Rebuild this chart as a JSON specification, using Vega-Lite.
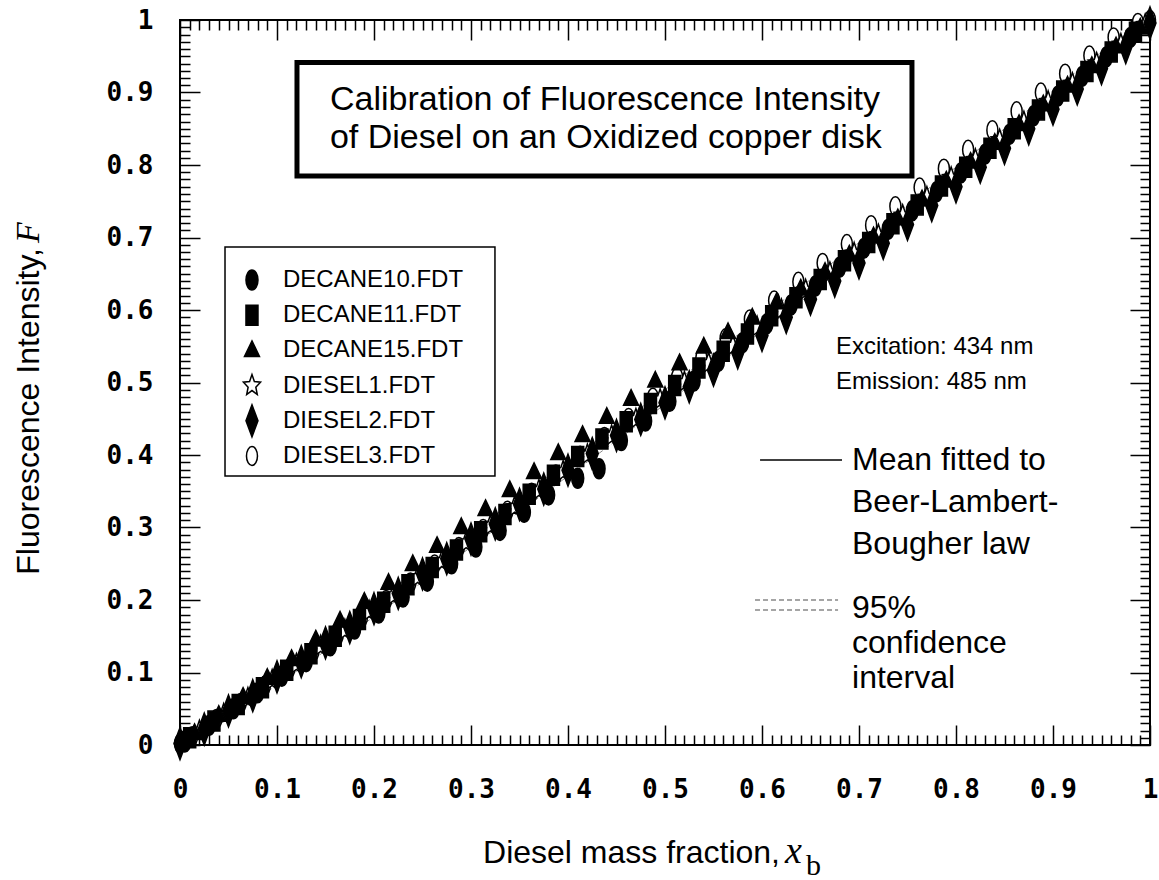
{
  "$schema": "https://vega.github.io/schema/vega-lite/v6.json",
  "width": 970,
  "height": 725,
  "autosize": "none",
  "padding": {"left": 180, "top": 20, "right": 9, "bottom": 135},
  "background": "white",
  "config": {"view": {"stroke": "black", "strokeWidth": 2}, "font": "Liberation Sans"},
  "resolve": {"axis": {"x": "independent", "y": "independent"}},
  "layer": [
    {
      "data": {"values": [{"v": 0}, {"v": 1}]},
      "mark": {"type": "point", "opacity": 0},
      "encoding": {
        "x": {"field": "v", "type": "quantitative", "scale": {"domain": [0, 1], "nice": false, "zero": false},
          "axis": {"orient": "top", "tickCount": 100, "ticks": true, "tickSize": {"expr": "abs(datum.value*10 - round(datum.value*10)) < 0.001 ? -20 : -10"}, "tickWidth": 1.5, "tickColor": "black", "labels": false, "domain": false, "grid": false, "title": null}},
        "y": {"field": "v", "type": "quantitative", "scale": {"domain": [0, 1], "nice": false, "zero": false},
          "axis": {"orient": "right", "tickCount": 100, "ticks": true, "tickSize": {"expr": "abs(datum.value*10 - round(datum.value*10)) < 0.001 ? -20 : -10"}, "tickWidth": 1.5, "tickColor": "black", "labels": false, "domain": false, "grid": false, "title": null}}
      }
    },
    {
      "data": {"values": [
        {"x": 0, "m": 0, "lo": -0.004, "hi": 0.004},
        {"x": 0.05, "m": 0.0462, "lo": 0.036, "hi": 0.056},
        {"x": 0.1, "m": 0.0928, "lo": 0.083, "hi": 0.103},
        {"x": 0.15, "m": 0.1398, "lo": 0.13, "hi": 0.15},
        {"x": 0.2, "m": 0.1872, "lo": 0.177, "hi": 0.197},
        {"x": 0.25, "m": 0.235, "lo": 0.225, "hi": 0.245},
        {"x": 0.3, "m": 0.2832, "lo": 0.273, "hi": 0.293},
        {"x": 0.35, "m": 0.3318, "lo": 0.322, "hi": 0.342},
        {"x": 0.4, "m": 0.3808, "lo": 0.371, "hi": 0.391},
        {"x": 0.45, "m": 0.4302, "lo": 0.42, "hi": 0.44},
        {"x": 0.5, "m": 0.48, "lo": 0.47, "hi": 0.49},
        {"x": 0.55, "m": 0.5302, "lo": 0.52, "hi": 0.54},
        {"x": 0.6, "m": 0.5808, "lo": 0.571, "hi": 0.591},
        {"x": 0.65, "m": 0.6318, "lo": 0.622, "hi": 0.642},
        {"x": 0.7, "m": 0.6832, "lo": 0.673, "hi": 0.693},
        {"x": 0.75, "m": 0.735, "lo": 0.725, "hi": 0.745},
        {"x": 0.8, "m": 0.7872, "lo": 0.777, "hi": 0.797},
        {"x": 0.85, "m": 0.8398, "lo": 0.83, "hi": 0.85},
        {"x": 0.9, "m": 0.8928, "lo": 0.883, "hi": 0.903},
        {"x": 0.95, "m": 0.9462, "lo": 0.936, "hi": 0.956},
        {"x": 1, "m": 1, "lo": 0.996, "hi": 1.004}
      ]},
      "layer": [
        {
          "mark": {"type": "line", "stroke": "#888888", "strokeWidth": 1, "strokeDash": [5, 3]},
          "encoding": {
            "x": {"field": "x", "type": "quantitative", "scale": {"domain": [0, 1], "nice": false, "zero": false}, "axis": null},
            "y": {"field": "lo", "type": "quantitative", "scale": {"domain": [0, 1], "nice": false, "zero": false}, "axis": null}
          }
        },
        {
          "mark": {"type": "line", "stroke": "#888888", "strokeWidth": 1, "strokeDash": [5, 3]},
          "encoding": {
            "x": {"field": "x", "type": "quantitative", "scale": {"domain": [0, 1], "nice": false, "zero": false}, "axis": null},
            "y": {"field": "hi", "type": "quantitative", "scale": {"domain": [0, 1], "nice": false, "zero": false}, "axis": null}
          }
        },
        {
          "mark": {"type": "line", "stroke": "black", "strokeWidth": 1.5},
          "encoding": {
            "x": {"field": "x", "type": "quantitative", "scale": {"domain": [0, 1], "nice": false, "zero": false}, "axis": null},
            "y": {"field": "m", "type": "quantitative", "scale": {"domain": [0, 1], "nice": false, "zero": false}, "axis": null}
          }
        }
      ]
    },
    {
      "data": {"values": [{}]},
      "mark": {"type": "rect", "fill": "white", "stroke": "black", "strokeWidth": 5},
      "encoding": {
        "x": {"datum": 0.1206, "type": "quantitative", "scale": {"domain": [0, 1], "nice": false, "zero": false}, "axis": null},
        "x2": {"datum": 0.7546},
        "y": {"datum": 0.9414, "type": "quantitative", "scale": {"domain": [0, 1], "nice": false, "zero": false}, "axis": null},
        "y2": {"datum": 0.7848}
      }
    },
    {
      "data": {"values": [{}]},
      "mark": {"type": "rect", "fill": "white", "stroke": "black", "strokeWidth": 1.5},
      "encoding": {
        "x": {"datum": 0.0464, "type": "quantitative", "scale": {"domain": [0, 1], "nice": false, "zero": false}, "axis": null},
        "x2": {"datum": 0.3247},
        "y": {"datum": 0.6869, "type": "quantitative", "scale": {"domain": [0, 1], "nice": false, "zero": false}, "axis": null},
        "y2": {"datum": 0.371}
      }
    },
    {
      "data": {"values": [
        {"s": "DIESEL3.FDT", "x": 0, "F": 0.002},
        {"s": "DIESEL3.FDT", "x": 0.0125, "F": 0.012},
        {"s": "DIESEL3.FDT", "x": 0.0375, "F": 0.036},
        {"s": "DIESEL3.FDT", "x": 0.0625, "F": 0.058},
        {"s": "DIESEL3.FDT", "x": 0.0875, "F": 0.082},
        {"s": "DIESEL3.FDT", "x": 0.1125, "F": 0.105},
        {"s": "DIESEL3.FDT", "x": 0.1375, "F": 0.129},
        {"s": "DIESEL3.FDT", "x": 0.1625, "F": 0.151},
        {"s": "DIESEL3.FDT", "x": 0.1875, "F": 0.176},
        {"s": "DIESEL3.FDT", "x": 0.2125, "F": 0.2},
        {"s": "DIESEL3.FDT", "x": 0.2375, "F": 0.224},
        {"s": "DIESEL3.FDT", "x": 0.2625, "F": 0.249},
        {"s": "DIESEL3.FDT", "x": 0.2875, "F": 0.273},
        {"s": "DIESEL3.FDT", "x": 0.3125, "F": 0.298},
        {"s": "DIESEL3.FDT", "x": 0.3375, "F": 0.323},
        {"s": "DIESEL3.FDT", "x": 0.3625, "F": 0.348},
        {"s": "DIESEL3.FDT", "x": 0.3875, "F": 0.373},
        {"s": "DIESEL3.FDT", "x": 0.4125, "F": 0.399},
        {"s": "DIESEL3.FDT", "x": 0.4375, "F": 0.425},
        {"s": "DIESEL3.FDT", "x": 0.4625, "F": 0.451},
        {"s": "DIESEL3.FDT", "x": 0.4875, "F": 0.479},
        {"s": "DIESEL3.FDT", "x": 0.5125, "F": 0.507},
        {"s": "DIESEL3.FDT", "x": 0.5375, "F": 0.534},
        {"s": "DIESEL3.FDT", "x": 0.5625, "F": 0.561},
        {"s": "DIESEL3.FDT", "x": 0.5875, "F": 0.587},
        {"s": "DIESEL3.FDT", "x": 0.6125, "F": 0.613},
        {"s": "DIESEL3.FDT", "x": 0.6375, "F": 0.639},
        {"s": "DIESEL3.FDT", "x": 0.6625, "F": 0.665},
        {"s": "DIESEL3.FDT", "x": 0.6875, "F": 0.691},
        {"s": "DIESEL3.FDT", "x": 0.7125, "F": 0.717},
        {"s": "DIESEL3.FDT", "x": 0.7375, "F": 0.743},
        {"s": "DIESEL3.FDT", "x": 0.7625, "F": 0.769},
        {"s": "DIESEL3.FDT", "x": 0.7875, "F": 0.795},
        {"s": "DIESEL3.FDT", "x": 0.8125, "F": 0.821},
        {"s": "DIESEL3.FDT", "x": 0.8375, "F": 0.848},
        {"s": "DIESEL3.FDT", "x": 0.8625, "F": 0.874},
        {"s": "DIESEL3.FDT", "x": 0.8875, "F": 0.9},
        {"s": "DIESEL3.FDT", "x": 0.9125, "F": 0.926},
        {"s": "DIESEL3.FDT", "x": 0.9375, "F": 0.951},
        {"s": "DIESEL3.FDT", "x": 0.9625, "F": 0.976},
        {"s": "DIESEL3.FDT", "x": 0.9875, "F": 0.996},
        {"s": "DIESEL3.FDT", "x": 1, "F": 1},
        {"s": "DIESEL1.FDT", "x": 0.02, "F": 0.019},
        {"s": "DIESEL1.FDT", "x": 0.045, "F": 0.042},
        {"s": "DIESEL1.FDT", "x": 0.07, "F": 0.064},
        {"s": "DIESEL1.FDT", "x": 0.095, "F": 0.089},
        {"s": "DIESEL1.FDT", "x": 0.12, "F": 0.111},
        {"s": "DIESEL1.FDT", "x": 0.145, "F": 0.136},
        {"s": "DIESEL1.FDT", "x": 0.17, "F": 0.158},
        {"s": "DIESEL1.FDT", "x": 0.195, "F": 0.184},
        {"s": "DIESEL1.FDT", "x": 0.22, "F": 0.206},
        {"s": "DIESEL1.FDT", "x": 0.245, "F": 0.231},
        {"s": "DIESEL1.FDT", "x": 0.27, "F": 0.253},
        {"s": "DIESEL1.FDT", "x": 0.295, "F": 0.279},
        {"s": "DIESEL1.FDT", "x": 0.32, "F": 0.302},
        {"s": "DIESEL1.FDT", "x": 0.345, "F": 0.328},
        {"s": "DIESEL1.FDT", "x": 0.37, "F": 0.351},
        {"s": "DIESEL1.FDT", "x": 0.395, "F": 0.377},
        {"s": "DIESEL1.FDT", "x": 0.42, "F": 0.4},
        {"s": "DIESEL1.FDT", "x": 0.445, "F": 0.426},
        {"s": "DIESEL1.FDT", "x": 0.47, "F": 0.449},
        {"s": "DIESEL1.FDT", "x": 0.495, "F": 0.476},
        {"s": "DIESEL1.FDT", "x": 0.52, "F": 0.5},
        {"s": "DIESEL1.FDT", "x": 0.545, "F": 0.526},
        {"s": "DIESEL1.FDT", "x": 0.57, "F": 0.55},
        {"s": "DIESEL1.FDT", "x": 0.595, "F": 0.576},
        {"s": "DIESEL1.FDT", "x": 0.62, "F": 0.6},
        {"s": "DIESEL1.FDT", "x": 0.645, "F": 0.627},
        {"s": "DIESEL1.FDT", "x": 0.67, "F": 0.651},
        {"s": "DIESEL1.FDT", "x": 0.695, "F": 0.678},
        {"s": "DIESEL1.FDT", "x": 0.72, "F": 0.703},
        {"s": "DIESEL1.FDT", "x": 0.745, "F": 0.73},
        {"s": "DIESEL1.FDT", "x": 0.77, "F": 0.755},
        {"s": "DIESEL1.FDT", "x": 0.795, "F": 0.782},
        {"s": "DIESEL1.FDT", "x": 0.82, "F": 0.807},
        {"s": "DIESEL1.FDT", "x": 0.845, "F": 0.834},
        {"s": "DIESEL1.FDT", "x": 0.87, "F": 0.859},
        {"s": "DIESEL1.FDT", "x": 0.895, "F": 0.887},
        {"s": "DIESEL1.FDT", "x": 0.92, "F": 0.912},
        {"s": "DIESEL1.FDT", "x": 0.945, "F": 0.94},
        {"s": "DIESEL1.FDT", "x": 0.97, "F": 0.966},
        {"s": "DIESEL1.FDT", "x": 0.995, "F": 0.993},
        {"s": "DECANE10.FDT", "x": 0.005, "F": 0.004},
        {"s": "DECANE10.FDT", "x": 0.03, "F": 0.027},
        {"s": "DECANE10.FDT", "x": 0.055, "F": 0.05},
        {"s": "DECANE10.FDT", "x": 0.08, "F": 0.072},
        {"s": "DECANE10.FDT", "x": 0.105, "F": 0.095},
        {"s": "DECANE10.FDT", "x": 0.13, "F": 0.115},
        {"s": "DECANE10.FDT", "x": 0.155, "F": 0.137},
        {"s": "DECANE10.FDT", "x": 0.18, "F": 0.16},
        {"s": "DECANE10.FDT", "x": 0.205, "F": 0.182},
        {"s": "DECANE10.FDT", "x": 0.23, "F": 0.204},
        {"s": "DECANE10.FDT", "x": 0.255, "F": 0.226},
        {"s": "DECANE10.FDT", "x": 0.28, "F": 0.25},
        {"s": "DECANE10.FDT", "x": 0.305, "F": 0.273},
        {"s": "DECANE10.FDT", "x": 0.33, "F": 0.296},
        {"s": "DECANE10.FDT", "x": 0.355, "F": 0.321},
        {"s": "DECANE10.FDT", "x": 0.38, "F": 0.345},
        {"s": "DECANE10.FDT", "x": 0.41, "F": 0.368},
        {"s": "DECANE10.FDT", "x": 0.432, "F": 0.381},
        {"s": "DECANE10.FDT", "x": 0.455, "F": 0.42},
        {"s": "DECANE10.FDT", "x": 0.48, "F": 0.447},
        {"s": "DECANE10.FDT", "x": 0.505, "F": 0.474},
        {"s": "DECANE10.FDT", "x": 0.53, "F": 0.502},
        {"s": "DECANE10.FDT", "x": 0.555, "F": 0.529},
        {"s": "DECANE10.FDT", "x": 0.58, "F": 0.555},
        {"s": "DECANE10.FDT", "x": 0.605, "F": 0.581},
        {"s": "DECANE10.FDT", "x": 0.63, "F": 0.607},
        {"s": "DECANE10.FDT", "x": 0.655, "F": 0.633},
        {"s": "DECANE10.FDT", "x": 0.68, "F": 0.659},
        {"s": "DECANE10.FDT", "x": 0.705, "F": 0.685},
        {"s": "DECANE10.FDT", "x": 0.73, "F": 0.711},
        {"s": "DECANE10.FDT", "x": 0.755, "F": 0.737},
        {"s": "DECANE10.FDT", "x": 0.78, "F": 0.763},
        {"s": "DECANE10.FDT", "x": 0.805, "F": 0.789},
        {"s": "DECANE10.FDT", "x": 0.83, "F": 0.815},
        {"s": "DECANE10.FDT", "x": 0.855, "F": 0.842},
        {"s": "DECANE10.FDT", "x": 0.88, "F": 0.868},
        {"s": "DECANE10.FDT", "x": 0.905, "F": 0.895},
        {"s": "DECANE10.FDT", "x": 0.93, "F": 0.922},
        {"s": "DECANE10.FDT", "x": 0.955, "F": 0.949},
        {"s": "DECANE10.FDT", "x": 0.98, "F": 0.976},
        {"s": "DECANE11.FDT", "x": 0.01, "F": 0.01},
        {"s": "DECANE11.FDT", "x": 0.035, "F": 0.033},
        {"s": "DECANE11.FDT", "x": 0.06, "F": 0.056},
        {"s": "DECANE11.FDT", "x": 0.085, "F": 0.079},
        {"s": "DECANE11.FDT", "x": 0.11, "F": 0.103},
        {"s": "DECANE11.FDT", "x": 0.135, "F": 0.126},
        {"s": "DECANE11.FDT", "x": 0.16, "F": 0.15},
        {"s": "DECANE11.FDT", "x": 0.185, "F": 0.173},
        {"s": "DECANE11.FDT", "x": 0.21, "F": 0.197},
        {"s": "DECANE11.FDT", "x": 0.235, "F": 0.221},
        {"s": "DECANE11.FDT", "x": 0.26, "F": 0.245},
        {"s": "DECANE11.FDT", "x": 0.285, "F": 0.269},
        {"s": "DECANE11.FDT", "x": 0.31, "F": 0.294},
        {"s": "DECANE11.FDT", "x": 0.335, "F": 0.318},
        {"s": "DECANE11.FDT", "x": 0.36, "F": 0.346},
        {"s": "DECANE11.FDT", "x": 0.385, "F": 0.372},
        {"s": "DECANE11.FDT", "x": 0.41, "F": 0.398},
        {"s": "DECANE11.FDT", "x": 0.435, "F": 0.422},
        {"s": "DECANE11.FDT", "x": 0.46, "F": 0.446},
        {"s": "DECANE11.FDT", "x": 0.485, "F": 0.471},
        {"s": "DECANE11.FDT", "x": 0.51, "F": 0.496},
        {"s": "DECANE11.FDT", "x": 0.535, "F": 0.52},
        {"s": "DECANE11.FDT", "x": 0.56, "F": 0.543},
        {"s": "DECANE11.FDT", "x": 0.585, "F": 0.567},
        {"s": "DECANE11.FDT", "x": 0.61, "F": 0.592},
        {"s": "DECANE11.FDT", "x": 0.635, "F": 0.617},
        {"s": "DECANE11.FDT", "x": 0.66, "F": 0.642},
        {"s": "DECANE11.FDT", "x": 0.685, "F": 0.668},
        {"s": "DECANE11.FDT", "x": 0.71, "F": 0.693},
        {"s": "DECANE11.FDT", "x": 0.735, "F": 0.719},
        {"s": "DECANE11.FDT", "x": 0.76, "F": 0.745},
        {"s": "DECANE11.FDT", "x": 0.785, "F": 0.771},
        {"s": "DECANE11.FDT", "x": 0.81, "F": 0.797},
        {"s": "DECANE11.FDT", "x": 0.835, "F": 0.823},
        {"s": "DECANE11.FDT", "x": 0.86, "F": 0.85},
        {"s": "DECANE11.FDT", "x": 0.885, "F": 0.876},
        {"s": "DECANE11.FDT", "x": 0.91, "F": 0.902},
        {"s": "DECANE11.FDT", "x": 0.935, "F": 0.929},
        {"s": "DECANE11.FDT", "x": 0.96, "F": 0.956},
        {"s": "DECANE11.FDT", "x": 0.985, "F": 0.983},
        {"s": "DECANE15.FDT", "x": 0.015, "F": 0.016},
        {"s": "DECANE15.FDT", "x": 0.04, "F": 0.041},
        {"s": "DECANE15.FDT", "x": 0.065, "F": 0.066},
        {"s": "DECANE15.FDT", "x": 0.09, "F": 0.092},
        {"s": "DECANE15.FDT", "x": 0.115, "F": 0.118},
        {"s": "DECANE15.FDT", "x": 0.14, "F": 0.145},
        {"s": "DECANE15.FDT", "x": 0.165, "F": 0.171},
        {"s": "DECANE15.FDT", "x": 0.19, "F": 0.197},
        {"s": "DECANE15.FDT", "x": 0.215, "F": 0.223},
        {"s": "DECANE15.FDT", "x": 0.24, "F": 0.249},
        {"s": "DECANE15.FDT", "x": 0.265, "F": 0.274},
        {"s": "DECANE15.FDT", "x": 0.29, "F": 0.3},
        {"s": "DECANE15.FDT", "x": 0.315, "F": 0.325},
        {"s": "DECANE15.FDT", "x": 0.34, "F": 0.351},
        {"s": "DECANE15.FDT", "x": 0.365, "F": 0.376},
        {"s": "DECANE15.FDT", "x": 0.39, "F": 0.402},
        {"s": "DECANE15.FDT", "x": 0.415, "F": 0.427},
        {"s": "DECANE15.FDT", "x": 0.44, "F": 0.452},
        {"s": "DECANE15.FDT", "x": 0.465, "F": 0.477},
        {"s": "DECANE15.FDT", "x": 0.49, "F": 0.502},
        {"s": "DECANE15.FDT", "x": 0.515, "F": 0.526},
        {"s": "DECANE15.FDT", "x": 0.54, "F": 0.549},
        {"s": "DECANE15.FDT", "x": 0.565, "F": 0.569},
        {"s": "DECANE15.FDT", "x": 0.59, "F": 0.589},
        {"s": "DECANE15.FDT", "x": 0.615, "F": 0.61},
        {"s": "DECANE15.FDT", "x": 0.64, "F": 0.629},
        {"s": "DECANE15.FDT", "x": 0.665, "F": 0.652},
        {"s": "DECANE15.FDT", "x": 0.69, "F": 0.676},
        {"s": "DECANE15.FDT", "x": 0.715, "F": 0.701},
        {"s": "DECANE15.FDT", "x": 0.74, "F": 0.726},
        {"s": "DECANE15.FDT", "x": 0.765, "F": 0.752},
        {"s": "DECANE15.FDT", "x": 0.79, "F": 0.778},
        {"s": "DECANE15.FDT", "x": 0.815, "F": 0.804},
        {"s": "DECANE15.FDT", "x": 0.84, "F": 0.83},
        {"s": "DECANE15.FDT", "x": 0.865, "F": 0.856},
        {"s": "DECANE15.FDT", "x": 0.89, "F": 0.883},
        {"s": "DECANE15.FDT", "x": 0.915, "F": 0.909},
        {"s": "DECANE15.FDT", "x": 0.94, "F": 0.936},
        {"s": "DECANE15.FDT", "x": 0.965, "F": 0.963},
        {"s": "DECANE15.FDT", "x": 0.99, "F": 0.989},
        {"s": "DIESEL2.FDT", "x": 0, "F": 0.002},
        {"s": "DIESEL2.FDT", "x": 0.025, "F": 0.022},
        {"s": "DIESEL2.FDT", "x": 0.05, "F": 0.047},
        {"s": "DIESEL2.FDT", "x": 0.075, "F": 0.068},
        {"s": "DIESEL2.FDT", "x": 0.1, "F": 0.094},
        {"s": "DIESEL2.FDT", "x": 0.125, "F": 0.115},
        {"s": "DIESEL2.FDT", "x": 0.15, "F": 0.141},
        {"s": "DIESEL2.FDT", "x": 0.175, "F": 0.162},
        {"s": "DIESEL2.FDT", "x": 0.2, "F": 0.188},
        {"s": "DIESEL2.FDT", "x": 0.225, "F": 0.209},
        {"s": "DIESEL2.FDT", "x": 0.25, "F": 0.236},
        {"s": "DIESEL2.FDT", "x": 0.275, "F": 0.257},
        {"s": "DIESEL2.FDT", "x": 0.3, "F": 0.284},
        {"s": "DIESEL2.FDT", "x": 0.325, "F": 0.305},
        {"s": "DIESEL2.FDT", "x": 0.35, "F": 0.332},
        {"s": "DIESEL2.FDT", "x": 0.375, "F": 0.353},
        {"s": "DIESEL2.FDT", "x": 0.4, "F": 0.379},
        {"s": "DIESEL2.FDT", "x": 0.425, "F": 0.402},
        {"s": "DIESEL2.FDT", "x": 0.45, "F": 0.427},
        {"s": "DIESEL2.FDT", "x": 0.475, "F": 0.449},
        {"s": "DIESEL2.FDT", "x": 0.5, "F": 0.472},
        {"s": "DIESEL2.FDT", "x": 0.525, "F": 0.494},
        {"s": "DIESEL2.FDT", "x": 0.55, "F": 0.517},
        {"s": "DIESEL2.FDT", "x": 0.575, "F": 0.541},
        {"s": "DIESEL2.FDT", "x": 0.6, "F": 0.565},
        {"s": "DIESEL2.FDT", "x": 0.625, "F": 0.59},
        {"s": "DIESEL2.FDT", "x": 0.65, "F": 0.615},
        {"s": "DIESEL2.FDT", "x": 0.675, "F": 0.64},
        {"s": "DIESEL2.FDT", "x": 0.7, "F": 0.665},
        {"s": "DIESEL2.FDT", "x": 0.725, "F": 0.692},
        {"s": "DIESEL2.FDT", "x": 0.75, "F": 0.718},
        {"s": "DIESEL2.FDT", "x": 0.775, "F": 0.744},
        {"s": "DIESEL2.FDT", "x": 0.8, "F": 0.77},
        {"s": "DIESEL2.FDT", "x": 0.825, "F": 0.797},
        {"s": "DIESEL2.FDT", "x": 0.85, "F": 0.823},
        {"s": "DIESEL2.FDT", "x": 0.875, "F": 0.85},
        {"s": "DIESEL2.FDT", "x": 0.9, "F": 0.877},
        {"s": "DIESEL2.FDT", "x": 0.925, "F": 0.905},
        {"s": "DIESEL2.FDT", "x": 0.95, "F": 0.933},
        {"s": "DIESEL2.FDT", "x": 0.975, "F": 0.962},
        {"s": "DIESEL2.FDT", "x": 1, "F": 0.996}
      ]},
      "mark": {"type": "point", "filled": true, "size": 400, "stroke": "black", "strokeWidth": 1.5, "opacity": 1},
      "encoding": {
        "x": {"field": "x", "type": "quantitative", "scale": {"domain": [0, 1], "nice": false, "zero": false},
          "axis": {"orient": "bottom", "tickCount": 100, "ticks": true, "tickSize": {"expr": "abs(datum.value*10 - round(datum.value*10)) < 0.001 ? -20 : -10"}, "tickWidth": 1.5, "tickColor": "black", "labelExpr": "abs(datum.value*10 - round(datum.value*10)) < 0.001 ? format(datum.value, '~g') : ''", "domain": false, "grid": false, "labelFlush": false, "labelOverlap": false, "labelBound": false, "labelPadding": 51, "labelFont": "DejaVu Sans Mono", "labelFontWeight": "bold", "labelFontSize": 26, "labelColor": "black", "title": null}},
        "y": {"field": "F", "type": "quantitative", "scale": {"domain": [0, 1], "nice": false, "zero": false},
          "axis": {"orient": "left", "tickCount": 100, "ticks": true, "tickSize": {"expr": "abs(datum.value*10 - round(datum.value*10)) < 0.001 ? -20 : -10"}, "tickWidth": 1.5, "tickColor": "black", "labelExpr": "abs(datum.value*10 - round(datum.value*10)) < 0.001 ? format(datum.value, '~g') : ''", "domain": false, "grid": false, "labelFlush": false, "labelOverlap": false, "labelBound": false, "labelPadding": 47, "labelFont": "DejaVu Sans Mono", "labelFontWeight": "bold", "labelFontSize": 26, "labelColor": "black", "title": null}},
        "shape": {"field": "s", "type": "nominal",
          "scale": {"domain": ["DECANE10.FDT", "DECANE11.FDT", "DECANE15.FDT", "DIESEL1.FDT", "DIESEL2.FDT", "DIESEL3.FDT"],
            "range": [
              "M0,-1C0.331,-1 0.6,-0.552 0.6,0C0.6,0.552 0.331,1 0,1C-0.331,1 -0.6,0.552 -0.6,0C-0.6,-0.552 -0.331,-1 0,-1Z",
              "M-0.6,-1L0.6,-1L0.6,1L-0.6,1Z",
              "M0,-0.95L0.75,0.6L-0.75,0.6Z",
              "M0,-1.1L0.238,-0.4L0.856,-0.34L0.385,0.153L0.529,0.89L0,0.495L-0.529,0.89L-0.385,0.153L-0.856,-0.34L-0.238,-0.4Z",
              "M0,-1.6L0.6,0L0,1.6L-0.6,0Z",
              "M0,-0.95C0.304,-0.95 0.55,-0.525 0.55,0C0.55,0.525 0.304,0.95 0,0.95C-0.304,0.95 -0.55,0.525 -0.55,0C-0.55,-0.525 -0.304,-0.95 0,-0.95Z"
            ]},
          "legend": null},
        "fill": {"field": "s", "type": "nominal",
          "scale": {"domain": ["DECANE10.FDT", "DECANE11.FDT", "DECANE15.FDT", "DIESEL1.FDT", "DIESEL2.FDT", "DIESEL3.FDT"],
            "range": ["black", "black", "black", "white", "black", "white"]},
          "legend": null}
      }
    },
    {
      "data": {"values": [{"s": "DECANE10.FDT"}, {"s": "DECANE11.FDT"}, {"s": "DECANE15.FDT"}, {"s": "DIESEL1.FDT"}, {"s": "DIESEL2.FDT"}, {"s": "DIESEL3.FDT"}]},
      "mark": {"type": "point", "filled": true, "size": 400, "stroke": "black", "strokeWidth": 1.5, "opacity": 1},
      "encoding": {
        "x": {"datum": 0.0742, "type": "quantitative", "scale": {"domain": [0, 1], "nice": false, "zero": false}, "axis": null},
        "y": {"datum": 0.6414, "type": "quantitative", "scale": {"domain": [0, 1], "nice": false, "zero": false}, "axis": null},
        "yOffset": {"field": "s", "type": "nominal", "scale": {"type": "point", "domain": ["DECANE10.FDT", "DECANE11.FDT", "DECANE15.FDT", "DIESEL1.FDT", "DIESEL2.FDT", "DIESEL3.FDT"], "range": [0, 176], "padding": 0}},
        "shape": {"field": "s", "type": "nominal", "legend": null},
        "fill": {"field": "s", "type": "nominal", "legend": null}
      }
    },
    {
      "data": {"values": [{"s": "DECANE10.FDT"}, {"s": "DECANE11.FDT"}, {"s": "DECANE15.FDT"}, {"s": "DIESEL1.FDT"}, {"s": "DIESEL2.FDT"}, {"s": "DIESEL3.FDT"}]},
      "mark": {"type": "text", "align": "left", "baseline": "middle", "fontSize": 24, "font": "Liberation Sans", "fill": "black"},
      "encoding": {
        "x": {"datum": 0.1062, "type": "quantitative", "scale": {"domain": [0, 1], "nice": false, "zero": false}, "axis": null},
        "y": {"datum": 0.6414, "type": "quantitative", "scale": {"domain": [0, 1], "nice": false, "zero": false}, "axis": null},
        "yOffset": {"field": "s", "type": "nominal", "scale": {"type": "point", "domain": ["DECANE10.FDT", "DECANE11.FDT", "DECANE15.FDT", "DIESEL1.FDT", "DIESEL2.FDT", "DIESEL3.FDT"], "range": [0, 176], "padding": 0}},
        "text": {"field": "s", "type": "nominal"}
      }
    },
    {
      "data": {"values": [{}]},
      "mark": {"type": "text", "text": ["Calibration of Fluorescence Intensity", "of Diesel on an Oxidized copper disk"], "align": "left", "baseline": "alphabetic", "fontSize": 34, "lineHeight": 38, "font": "Liberation Sans", "fill": "black"},
      "encoding": {
        "x": {"datum": 0.1546, "type": "quantitative", "scale": {"domain": [0, 1], "nice": false, "zero": false}, "axis": null},
        "y": {"datum": 0.8759, "type": "quantitative", "scale": {"domain": [0, 1], "nice": false, "zero": false}, "axis": null}
      }
    },
    {
      "data": {"values": [{}]},
      "mark": {"type": "text", "text": ["Excitation: 434 nm", "Emission: 485 nm"], "align": "left", "baseline": "alphabetic", "fontSize": 24, "lineHeight": 35, "font": "Liberation Sans", "fill": "black"},
      "encoding": {
        "x": {"datum": 0.6763, "type": "quantitative", "scale": {"domain": [0, 1], "nice": false, "zero": false}, "axis": null},
        "y": {"datum": 0.5393, "type": "quantitative", "scale": {"domain": [0, 1], "nice": false, "zero": false}, "axis": null}
      }
    },
    {
      "data": {"values": [{}]},
      "mark": {"type": "text", "text": ["Mean fitted to", "Beer-Lambert-", "Bougher law"], "align": "left", "baseline": "alphabetic", "fontSize": 32, "lineHeight": 42, "font": "Liberation Sans", "fill": "black"},
      "encoding": {
        "x": {"datum": 0.6928, "type": "quantitative", "scale": {"domain": [0, 1], "nice": false, "zero": false}, "axis": null},
        "y": {"datum": 0.3793, "type": "quantitative", "scale": {"domain": [0, 1], "nice": false, "zero": false}, "axis": null}
      }
    },
    {
      "data": {"values": [{}]},
      "mark": {"type": "text", "text": ["95%", "confidence", "interval"], "align": "left", "baseline": "alphabetic", "fontSize": 32, "lineHeight": 35, "font": "Liberation Sans", "fill": "black"},
      "encoding": {
        "x": {"datum": 0.6928, "type": "quantitative", "scale": {"domain": [0, 1], "nice": false, "zero": false}, "axis": null},
        "y": {"datum": 0.1752, "type": "quantitative", "scale": {"domain": [0, 1], "nice": false, "zero": false}, "axis": null}
      }
    },
    {
      "data": {"values": [{}]},
      "mark": {"type": "rule", "stroke": "black", "strokeWidth": 1.5},
      "encoding": {
        "x": {"datum": 0.598, "type": "quantitative", "scale": {"domain": [0, 1], "nice": false, "zero": false}, "axis": null},
        "x2": {"datum": 0.6825},
        "y": {"datum": 0.3931, "type": "quantitative", "scale": {"domain": [0, 1], "nice": false, "zero": false}, "axis": null}
      }
    },
    {
      "data": {"values": [{}]},
      "mark": {"type": "rule", "stroke": "#888888", "strokeWidth": 1.5, "strokeDash": [5, 3]},
      "encoding": {
        "x": {"datum": 0.5928, "type": "quantitative", "scale": {"domain": [0, 1], "nice": false, "zero": false}, "axis": null},
        "x2": {"datum": 0.6784},
        "y": {"datum": 0.2, "type": "quantitative", "scale": {"domain": [0, 1], "nice": false, "zero": false}, "axis": null}
      }
    },
    {
      "data": {"values": [{}]},
      "mark": {"type": "rule", "stroke": "#888888", "strokeWidth": 1.5, "strokeDash": [5, 3]},
      "encoding": {
        "x": {"datum": 0.5928, "type": "quantitative", "scale": {"domain": [0, 1], "nice": false, "zero": false}, "axis": null},
        "x2": {"datum": 0.6784},
        "y": {"datum": 0.1862, "type": "quantitative", "scale": {"domain": [0, 1], "nice": false, "zero": false}, "axis": null}
      }
    },
    {
      "data": {"values": [{}]},
      "mark": {"type": "text", "text": "Diesel mass fraction,", "align": "left", "baseline": "alphabetic", "fontSize": 32, "font": "Liberation Sans", "fill": "black"},
      "encoding": {
        "x": {"datum": 0.3124, "type": "quantitative", "scale": {"domain": [0, 1], "nice": false, "zero": false}, "axis": null},
        "y": {"datum": -0.1628, "type": "quantitative", "scale": {"domain": [0, 1], "nice": false, "zero": false}, "axis": null}
      }
    },
    {
      "data": {"values": [{}]},
      "mark": {"type": "text", "text": "x", "align": "left", "baseline": "alphabetic", "fontSize": 38, "font": "Liberation Serif", "fontStyle": "italic", "fill": "black"},
      "encoding": {
        "x": {"datum": 0.6237, "type": "quantitative", "scale": {"domain": [0, 1], "nice": false, "zero": false}, "axis": null},
        "y": {"datum": -0.1628, "type": "quantitative", "scale": {"domain": [0, 1], "nice": false, "zero": false}, "axis": null}
      }
    },
    {
      "data": {"values": [{}]},
      "mark": {"type": "text", "text": "b", "align": "left", "baseline": "alphabetic", "fontSize": 30, "font": "Liberation Serif", "fill": "black"},
      "encoding": {
        "x": {"datum": 0.6454, "type": "quantitative", "scale": {"domain": [0, 1], "nice": false, "zero": false}, "axis": null},
        "y": {"datum": -0.1793, "type": "quantitative", "scale": {"domain": [0, 1], "nice": false, "zero": false}, "axis": null}
      }
    },
    {
      "data": {"values": [{}]},
      "mark": {"type": "text", "text": "Fluorescence Intensity,", "align": "right", "baseline": "alphabetic", "angle": 270, "fontSize": 32, "font": "Liberation Sans", "fill": "black"},
      "encoding": {
        "x": {"datum": -0.1454, "type": "quantitative", "scale": {"domain": [0, 1], "nice": false, "zero": false}, "axis": null},
        "y": {"datum": 0.6855, "type": "quantitative", "scale": {"domain": [0, 1], "nice": false, "zero": false}, "axis": null}
      }
    },
    {
      "data": {"values": [{}]},
      "mark": {"type": "text", "text": "F", "align": "left", "baseline": "alphabetic", "angle": 270, "fontSize": 34, "font": "Liberation Serif", "fontStyle": "italic", "fill": "black"},
      "encoding": {
        "x": {"datum": -0.1454, "type": "quantitative", "scale": {"domain": [0, 1], "nice": false, "zero": false}, "axis": null},
        "y": {"datum": 0.6924, "type": "quantitative", "scale": {"domain": [0, 1], "nice": false, "zero": false}, "axis": null}
      }
    }
  ]
}
